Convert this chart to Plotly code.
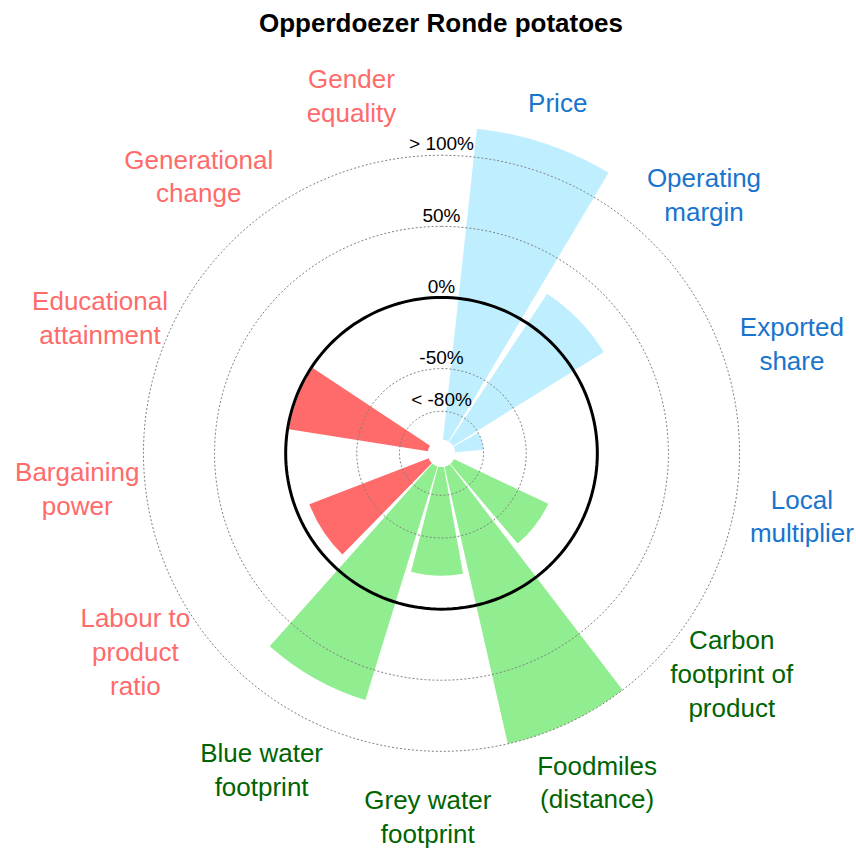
import plotly.graph_objects as go

# ---------------- data ----------------
categories = ["Price", "Operating margin", "Exported share", "Local multiplier",
              "Carbon footprint of product", "Foodmiles (distance)", "Grey water footprint",
              "Blue water footprint", "Labour to product ratio", "Bargaining power",
              "Educational attainment", "Generational change", "Gender equality"]
label_text = ["Price", "Operating<br>margin", "Exported<br>share", "Local<br>multiplier",
              "Carbon<br>footprint of<br>product", "Foodmiles<br>(distance)", "Grey water<br>footprint",
              "Blue water<br>footprint", "Labour to<br>product<br>ratio", "Bargaining<br>power",
              "Educational<br>attainment", "Generational<br>change", "Gender<br>equality"]
groups = ["economic"] * 4 + ["environmental"] * 4 + ["social"] * 5
values = [120, 25, -80, None, -26.5, 100, -23.5, 72, -10, None, -1, None, None]
radial_ticks = [-80, -50, 0, 50, 100]
radial_tick_labels = ["< -80%", "-50%", "0%", "50%", "> 100%"]

# ---------------- styles ----------------
bar_colors = {"economic": "#BFEFFF", "environmental": "#90EE90", "social": "#FF6A6A"}
label_colors = {"economic": "#1874CD", "environmental": "#006400", "social": "#FF6A6A"}
FONT = "Liberation Sans, Arial, sans-serif"

BASE = -100          # bars grow from the inner hole
R_MAX = 160          # outer edge of (invisible) polar area, leaves room for labels
LABEL_R = 148        # radius (axis units) of the category labels
STEP = 360 / 13.2    # angular size of one category slot
START = 18.5         # angle of first category centre (clockwise from north)

PX_PER_UNIT = 1.4223
HOLE_PX = 13.6
CX, CY = 441.5, 453.3
R_PX = HOLE_PX + (R_MAX - BASE) * PX_PER_UNIT
W, H = 856, 850

theta = [START + i * STEP for i in range(len(categories))]
bar_len = [None if v is None else v - BASE for v in values]

fig = go.Figure()

fig.add_trace(go.Barpolar(
    r=bar_len, base=BASE, theta=theta, width=0.9 * STEP,
    marker=dict(color=[bar_colors[g] for g in groups], line=dict(width=0)),
    text=categories, hovertemplate="%{text}<extra></extra>",
))

# reference rings (drawn above bars)
ring_theta = list(range(0, 361, 2))
for t in radial_ticks:
    if t == 0:
        line = dict(color="black", width=3)
    else:
        line = dict(color="#808080", width=1, dash="2px,2px")
    fig.add_trace(go.Scatterpolar(r=[t] * len(ring_theta), theta=ring_theta, mode="lines",
                                  line=line, hoverinfo="skip"))

# radial tick labels
fig.add_trace(go.Scatterpolar(
    r=radial_ticks, theta=[0] * len(radial_ticks), mode="text",
    text=radial_tick_labels, textposition="top center",
    textfont=dict(family=FONT, size=19, color="black"),
    hoverinfo="skip", cliponaxis=False,
))

# category labels
fig.add_trace(go.Scatterpolar(
    r=[LABEL_R] * len(categories), theta=theta, mode="text",
    text=label_text, textposition="middle center",
    textfont=dict(family=FONT, size=26, color=[label_colors[g] for g in groups]),
    hoverinfo="skip", cliponaxis=False,
))

fig.update_layout(
    width=W, height=H,
    margin=dict(l=0, r=0, t=0, b=0),
    paper_bgcolor="white",
    showlegend=False,
    title=dict(text="<b>Opperdoezer Ronde potatoes</b>", x=441 / W, xanchor="center",
               y=1 - 23 / H, yanchor="middle", yref="container", xref="container",
               font=dict(family=FONT, size=26, color="black")),
    polar=dict(
        domain=dict(x=[(CX - R_PX) / W, (CX + R_PX) / W],
                    y=[(H - CY - R_PX) / H, (H - CY + R_PX) / H]),
        hole=HOLE_PX / R_PX,
        bgcolor="white",
        radialaxis=dict(range=[BASE, R_MAX], showgrid=False, showticklabels=False,
                        showline=False, ticks=""),
        angularaxis=dict(type="linear", thetaunit="degrees", rotation=90, direction="clockwise",
                         showgrid=False, showticklabels=False, showline=False, ticks=""),
    ),
)

fig.write_html("out.html", config={"displayModeBar": False},
               post_script="document.body.style.margin='0';")
